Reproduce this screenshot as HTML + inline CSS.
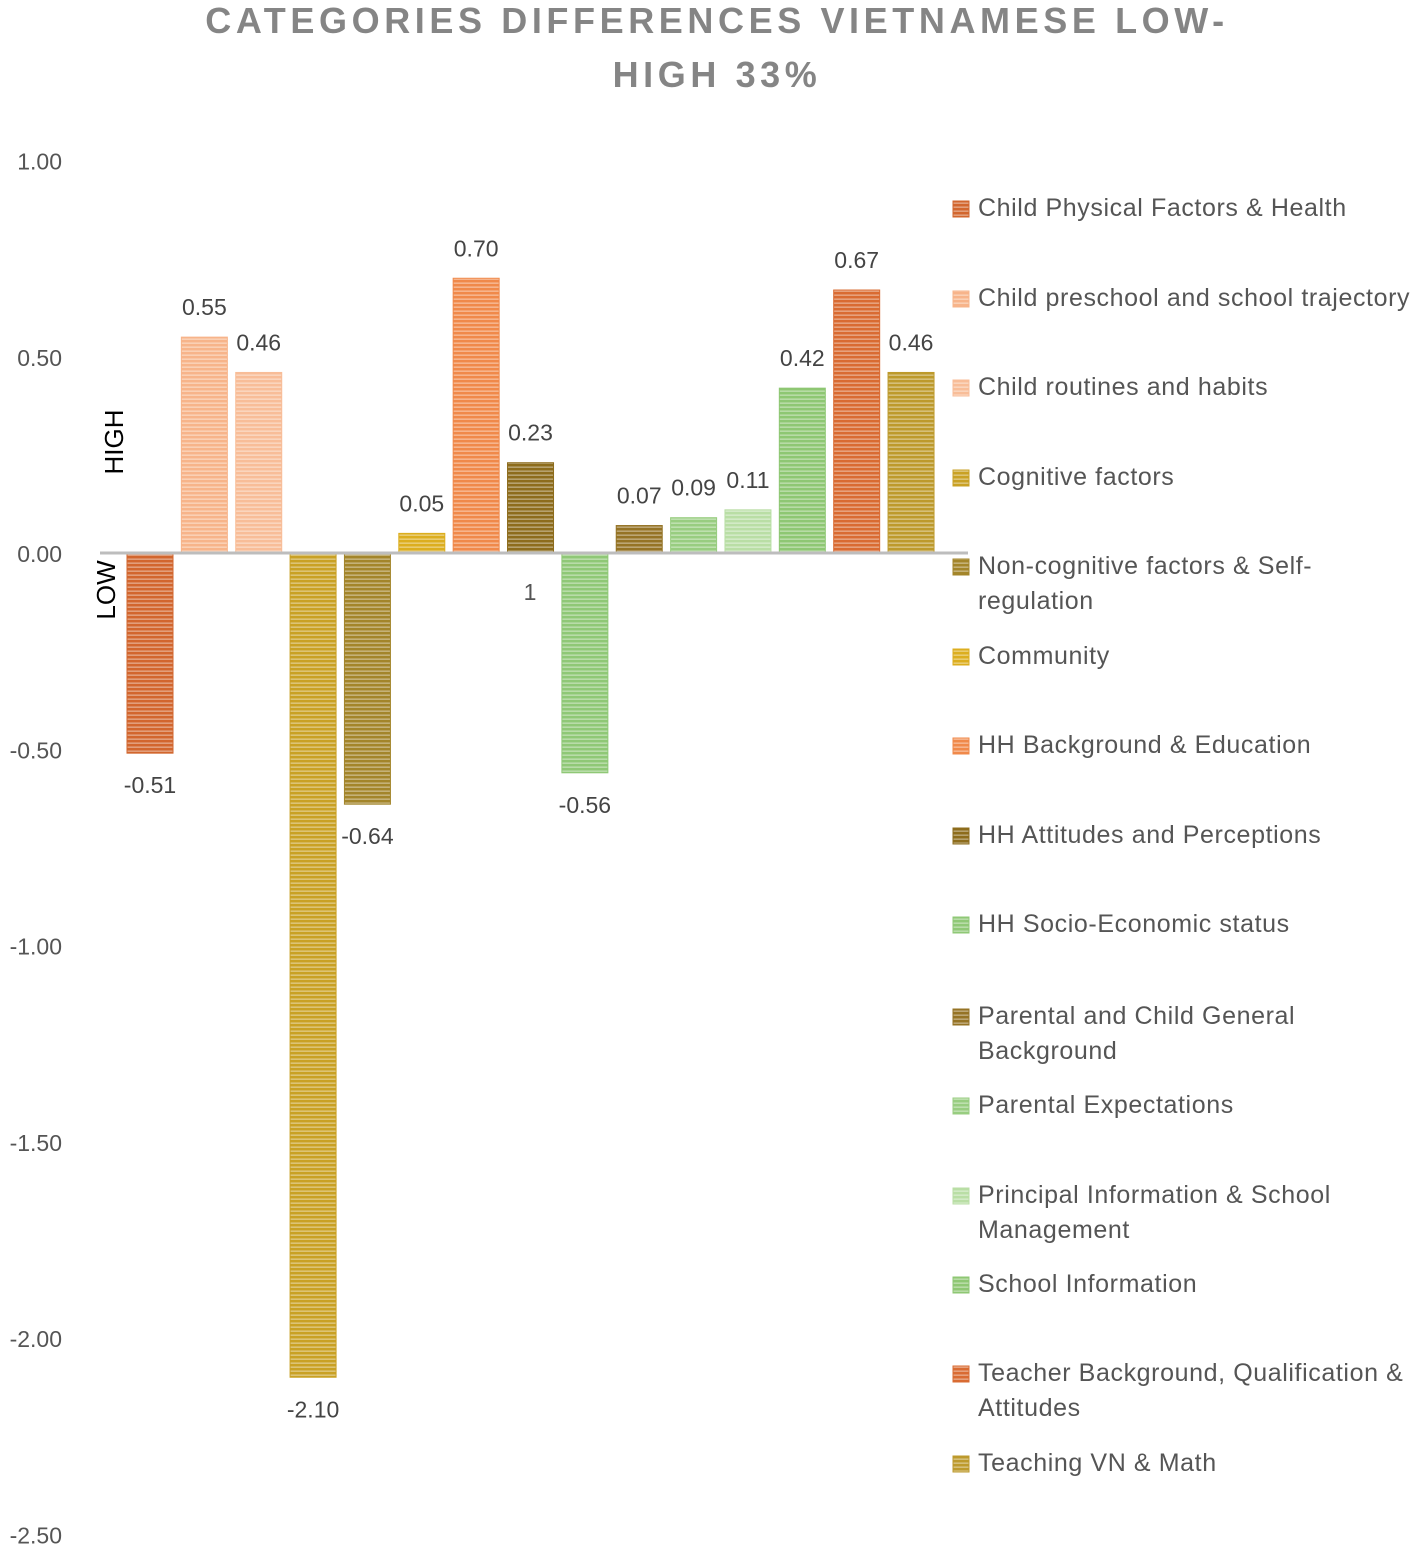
<!DOCTYPE html>
<html><head><meta charset="utf-8"><style>
body{margin:0;background:#fff;}
svg{display:block;font-family:"Liberation Sans",sans-serif;}
</style></head><body>
<svg id="chart" width="1422" height="1546" viewBox="0 0 1422 1546">
<defs id="defs"></defs>
<text x="717" y="33" text-anchor="middle" font-size="36" font-weight="bold" fill="#858585" letter-spacing="4.6">CATEGORIES DIFFERENCES VIETNAMESE LOW-</text>
<text x="717" y="87" text-anchor="middle" font-size="36" font-weight="bold" fill="#858585" letter-spacing="4.6">HIGH 33%</text>
<g id="yaxis"></g>
<g id="bars"></g>
<line x1="100" y1="553" x2="968" y2="553" stroke="#bdbdbd" stroke-width="3"/>
<text transform="translate(123,442) rotate(-90)" text-anchor="middle" font-size="26" fill="#000">HIGH</text>
<text transform="translate(115,590) rotate(-90)" text-anchor="middle" font-size="26" fill="#000">LOW</text>
<text x="530" y="600" text-anchor="middle" font-size="23" fill="#555">1</text>
<g id="legend"></g>
</svg>
<script>
const categories=["Child Physical Factors & Health","Child preschool and school trajectory","Child routines and habits","Cognitive factors","Non-cognitive factors & Self-|regulation","Community","HH Background & Education","HH Attitudes and Perceptions","HH Socio-Economic status","Parental and Child General|Background","Parental Expectations","Principal Information & School|Management","School Information","Teacher Background, Qualification &|Attitudes","Teaching VN & Math"];
const values=[-0.51,0.55,0.46,-2.10,-0.64,0.05,0.70,0.23,-0.56,0.07,0.09,0.11,0.42,0.67,0.46];
const colors=["#d2662e","#f7b48a","#f8bd98","#c9a124","#a3852a","#dcae1f","#f0894a","#8d6c1c","#8fc876","#957325","#98cd80","#b9dea5","#8ec773","#d96b32","#bd9a2c"];
const ticks=[1.0,0.5,0.0,-0.5,-1.0,-1.5,-2.0,-2.5];
const legendY=[207,297,386,476,565,655,744,834,923,1015,1104,1194,1283,1372,1462];
const NS="http://www.w3.org/2000/svg";
function y(v){return 553-v*392.5;}
function x(i){return 150+i*54.36;}
const defs=document.getElementById('defs');
colors.forEach((c,i)=>{
 const p=document.createElementNS(NS,'pattern');
 p.setAttribute('id','p'+i);p.setAttribute('width','4');p.setAttribute('height','4');p.setAttribute('patternUnits','userSpaceOnUse');
 const r1=document.createElementNS(NS,'rect');r1.setAttribute('width','4');r1.setAttribute('height','4');r1.setAttribute('fill',c);p.appendChild(r1);
 const r2=document.createElementNS(NS,'rect');r2.setAttribute('width','4');r2.setAttribute('height','1.3');r2.setAttribute('y','2.5');r2.setAttribute('fill','#fff');r2.setAttribute('opacity','0.45');p.appendChild(r2);
 defs.appendChild(p);
});
const ya=document.getElementById('yaxis');
ticks.forEach(t=>{
 const tx=document.createElementNS(NS,'text');
 
 
 tx.setAttribute('x','62');tx.setAttribute('y',y(t)+9);tx.setAttribute('text-anchor','end');tx.setAttribute('font-size','23');tx.setAttribute('fill','#555');
 tx.textContent=t.toFixed(2);ya.appendChild(tx);
});
const g=document.getElementById('bars');
values.forEach((v,i)=>{
 const r=document.createElementNS(NS,'rect');
 
 
 const top=Math.min(y(v),y(0)),h=Math.abs(y(v)-y(0));
 r.setAttribute('x',x(i)-23);r.setAttribute('y',top);r.setAttribute('width','46');r.setAttribute('height',h);
 r.setAttribute('fill','url(#p'+i+')');r.setAttribute('stroke',colors[i]);r.setAttribute('stroke-width','1');
 g.appendChild(r);
 const t=document.createElementNS(NS,'text');
 
 
 t.setAttribute('x',x(i));t.setAttribute('y',v>=0?y(v)-22:y(v)+40);t.setAttribute('text-anchor','middle');t.setAttribute('font-size','23');t.setAttribute('fill','#444');
 t.textContent=v.toFixed(2);g.appendChild(t);
});
const lg=document.getElementById('legend');
categories.forEach((c,i)=>{
 const s=document.createElementNS(NS,'rect');
 
 
 s.setAttribute('x','953');s.setAttribute('y',legendY[i]-6);s.setAttribute('width','16');s.setAttribute('height','16');s.setAttribute('fill','url(#p'+i+')');s.setAttribute('stroke',colors[i]);
 lg.appendChild(s);
 c.split('|').forEach((ln,k)=>{
  const t=document.createElementNS(NS,'text');
  
  
  t.setAttribute('x','978');t.setAttribute('y',legendY[i]+9+k*35);t.setAttribute('font-size','25');t.setAttribute('letter-spacing','0.6');t.setAttribute('fill','#555');
  t.textContent=ln;lg.appendChild(t);
 });
});
</script>
</body></html>
